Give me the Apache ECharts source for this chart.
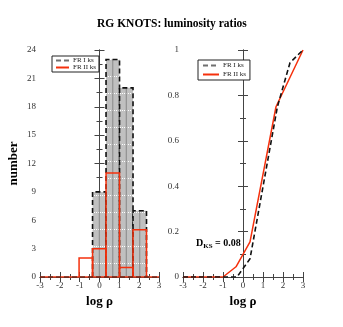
<!DOCTYPE html>
<html>
<head>
  <meta charset="utf-8">
</head>
<body style="height: 100%; margin: 0">
  <div id="container" style="width: 343px; height: 327px"></div>

  <script type="text/javascript" src="https://fastly.jsdelivr.net/npm/echarts@6/dist/echarts.min.js"></script>

  <script type="text/javascript">
    var dom = document.getElementById('container');
    var myChart = echarts.init(dom, null, { renderer: 'canvas' });

    // histogram bins (log rho) and counts
    var binEdges = [-1.03, -0.35, 0.33, 1.01, 1.69, 2.37];
    var countsFR1 = [0, 9, 23, 20, 7];
    var countsFR2 = [2, 3, 11, 1, 5];
    var zeroRange = [-3, 3];

    // cumulative distributions
    var cdfX1 = [-3, -0.3, 0.35, 1.72, 2.35, 3];
    var cdfY1 = [0, 0, 0.08, 0.75, 0.944, 1];
    var cdfX2 = [-3, -1, -0.35, 0.35, 1.65, 3];
    var cdfY2 = [0, 0, 0.045, 0.155, 0.75, 1];

    const red = '#f5300c';
    const serif = 'Liberation Serif';

    function binData(counts) {
      var out = [];
      for (var i = 0; i < counts.length; i++) {
        out.push([binEdges[i], binEdges[i + 1], counts[i]]);
      }
      return out;
    }
    function pairs(xs, ys) {
      return xs.map(function (x, i) { return [x, ys[i]]; });
    }

    // grey fill with white dotted hatch
    var pat = document.createElement('canvas');
    pat.width = 8; pat.height = 17;
    var pctx = pat.getContext('2d');
    pctx.fillStyle = '#c0c0c0';
    pctx.fillRect(0, 0, 8, 17);
    pctx.fillStyle = '#ffffff';
    for (var k = 0; k < 8; k += 2) pctx.fillRect(k, 8, 1, 1);

    function histRender(filled) {
      return function (params, api) {
        var x0 = api.value(0), x1 = api.value(1), c = api.value(2);
        if (!c) return;
        var pTop = api.coord([x0, c]);
        var pBot = api.coord([x1, 0]);
        var w = pBot[0] - pTop[0], h = pBot[1] - pTop[1];
        var outline = [[pTop[0], pBot[1]], [pTop[0], pTop[1]], [pBot[0], pTop[1]], [pBot[0], pBot[1]]];
        var kids = [];
        if (filled) {
          kids.push({
            type: 'rect',
            shape: { x: pTop[0], y: pTop[1], width: w, height: h },
            style: { fill: { image: pat, repeat: 'repeat' } }
          });
          var mx = (pTop[0] + pBot[0]) / 2;
          kids.push({
            type: 'line',
            shape: { x1: mx, y1: pTop[1], x2: mx, y2: pBot[1] },
            style: { stroke: '#7a7a7a', lineWidth: 0.8 }
          });
          kids.push({
            type: 'polyline',
            shape: { points: outline },
            style: { stroke: '#111', lineWidth: 1.6, lineDash: [5, 3], fill: null }
          });
        } else {
          kids.push({
            type: 'polyline',
            shape: { points: outline },
            style: { stroke: red, lineWidth: 1.5, fill: null }
          });
        }
        return { type: 'group', children: kids };
      };
    }

    function xAx(grid, pos, labels, name) {
      return {
        type: 'value', gridIndex: grid, position: pos,
        min: -3, max: 3, interval: 1,
        name: name, nameLocation: 'middle', nameGap: 13,
        nameTextStyle: { fontFamily: serif, fontWeight: 'bold', fontSize: 13, color: '#000' },
        axisLine: { lineStyle: { color: '#444' } },
        axisTick: { inside: true, length: 5, lineStyle: { color: '#444' } },
        minorTick: { show: true, splitNumber: 2, length: 3, lineStyle: { color: '#444' } },
        splitLine: { show: false },
        axisLabel: { show: labels, fontFamily: serif, fontSize: 9, color: '#333', margin: 4 }
      };
    }
    function yAx(grid, pos, labels, max, interval, name) {
      return {
        type: 'value', gridIndex: grid, position: pos,
        min: 0, max: max, interval: interval,
        name: name, nameLocation: 'middle', nameGap: 20,
        nameTextStyle: { fontFamily: serif, fontWeight: 'bold', fontSize: 13, color: '#000' },
        axisLine: { lineStyle: { color: '#444' } },
        axisTick: { inside: true, length: 5, lineStyle: { color: '#444' } },
        minorTick: { show: true, splitNumber: 2, length: 3, lineStyle: { color: '#444' } },
        splitLine: { show: false },
        axisLabel: { show: labels, fontFamily: serif, fontSize: 9, color: '#333', margin: 4 }
      };
    }

    var legendBase = {
      orient: 'vertical',
      data: ['FR I ks', 'FR II ks'],
      backgroundColor: '#fff',
      borderColor: '#222', borderWidth: 1,
      padding: [1, 3],
      itemGap: 0, itemWidth: 13, itemHeight: 6,
      itemStyle: { opacity: 0 },
      textStyle: { fontFamily: serif, fontSize: 7, color: '#222', padding: [0, 0, 0, -1] },
      selectedMode: false
    };

    var option = {
      animation: false,
      backgroundColor: '#fff',
      title: {
        text: 'RG KNOTS: luminosity ratios',
        left: 92, top: 13,
        textStyle: { fontFamily: serif, fontWeight: 'bold', fontSize: 11.5, color: '#000' }
      },
      legend: [
        Object.assign({}, legendBase, { left: 52, top: 56 }),
        Object.assign({}, legendBase, { left: 198, top: 60, padding: [2, 4], itemGap: 2, itemWidth: 16 })
      ],
      grid: [
        { left: 40, right: 184, top: 50, bottom: 50 },
        { left: 183, right: 40, top: 50, bottom: 50 }
      ],
      xAxis: [
        xAx(0, 'bottom', true, 'log ρ'),
        xAx(0, 'top', false, ''),
        xAx(1, 'bottom', true, 'log ρ'),
        xAx(1, 'top', false, '')
      ],
      yAxis: [
        yAx(0, 'left', true, 24, 3, 'number'),
        yAx(0, 'right', false, 24, 3, ''),
        yAx(1, 'left', true, 1, 0.2, ''),
        yAx(1, 'right', false, 1, 0.2, '')
      ],
      graphic: [{
        type: 'text', left: 196, top: 238,
        style: {
          text: '{d|D}{s|KS}{d| = 0.08}',
          rich: {
            d: { fontFamily: serif, fontWeight: 'bold', fontSize: 10, fill: '#000' },
            s: { fontFamily: serif, fontWeight: 'bold', fontSize: 7, fill: '#000', padding: [6, 0, 0, 0] }
          }
        }
      }],
      series: [
        {
          type: 'custom', xAxisIndex: 0, yAxisIndex: 0,
          renderItem: histRender(true), data: binData(countsFR1),
          encode: { x: [0, 1], y: 2 }, z: 2
        },
        {
          type: 'custom', xAxisIndex: 0, yAxisIndex: 0,
          renderItem: histRender(false), data: binData(countsFR2),
          encode: { x: [0, 1], y: 2 }, z: 3
        },
        {
          name: 'FR II ks', type: 'line', xAxisIndex: 0, yAxisIndex: 0,
          data: zeroRange.map(function (x) { return [x, 0]; }),
          symbol: 'none', lineStyle: { color: red, width: 1.5 }, itemStyle: { color: red }, z: 4
        },
        {
          name: 'FR I ks', type: 'line', xAxisIndex: 0, yAxisIndex: 0,
          data: zeroRange.map(function (x) { return [x, 0]; }),
          symbol: 'none', lineStyle: { color: '#111', width: 1.5, type: [5, 3], opacity: 0.6 },
          itemStyle: { color: '#111' }, z: 5
        },
        {
          name: 'FR I ks', type: 'line', xAxisIndex: 2, yAxisIndex: 2,
          data: pairs(cdfX1, cdfY1),
          symbol: 'none', lineStyle: { color: '#111', width: 1.6, type: [5, 3] },
          itemStyle: { color: '#111' }, z: 4
        },
        {
          name: 'FR II ks', type: 'line', xAxisIndex: 2, yAxisIndex: 2,
          data: pairs(cdfX2, cdfY2),
          symbol: 'none', lineStyle: { color: red, width: 1.5 },
          itemStyle: { color: red }, z: 3
        }
      ]
    };

    myChart.setOption(option);
    window.addEventListener('resize', myChart.resize);
  </script>
</body>
</html>
